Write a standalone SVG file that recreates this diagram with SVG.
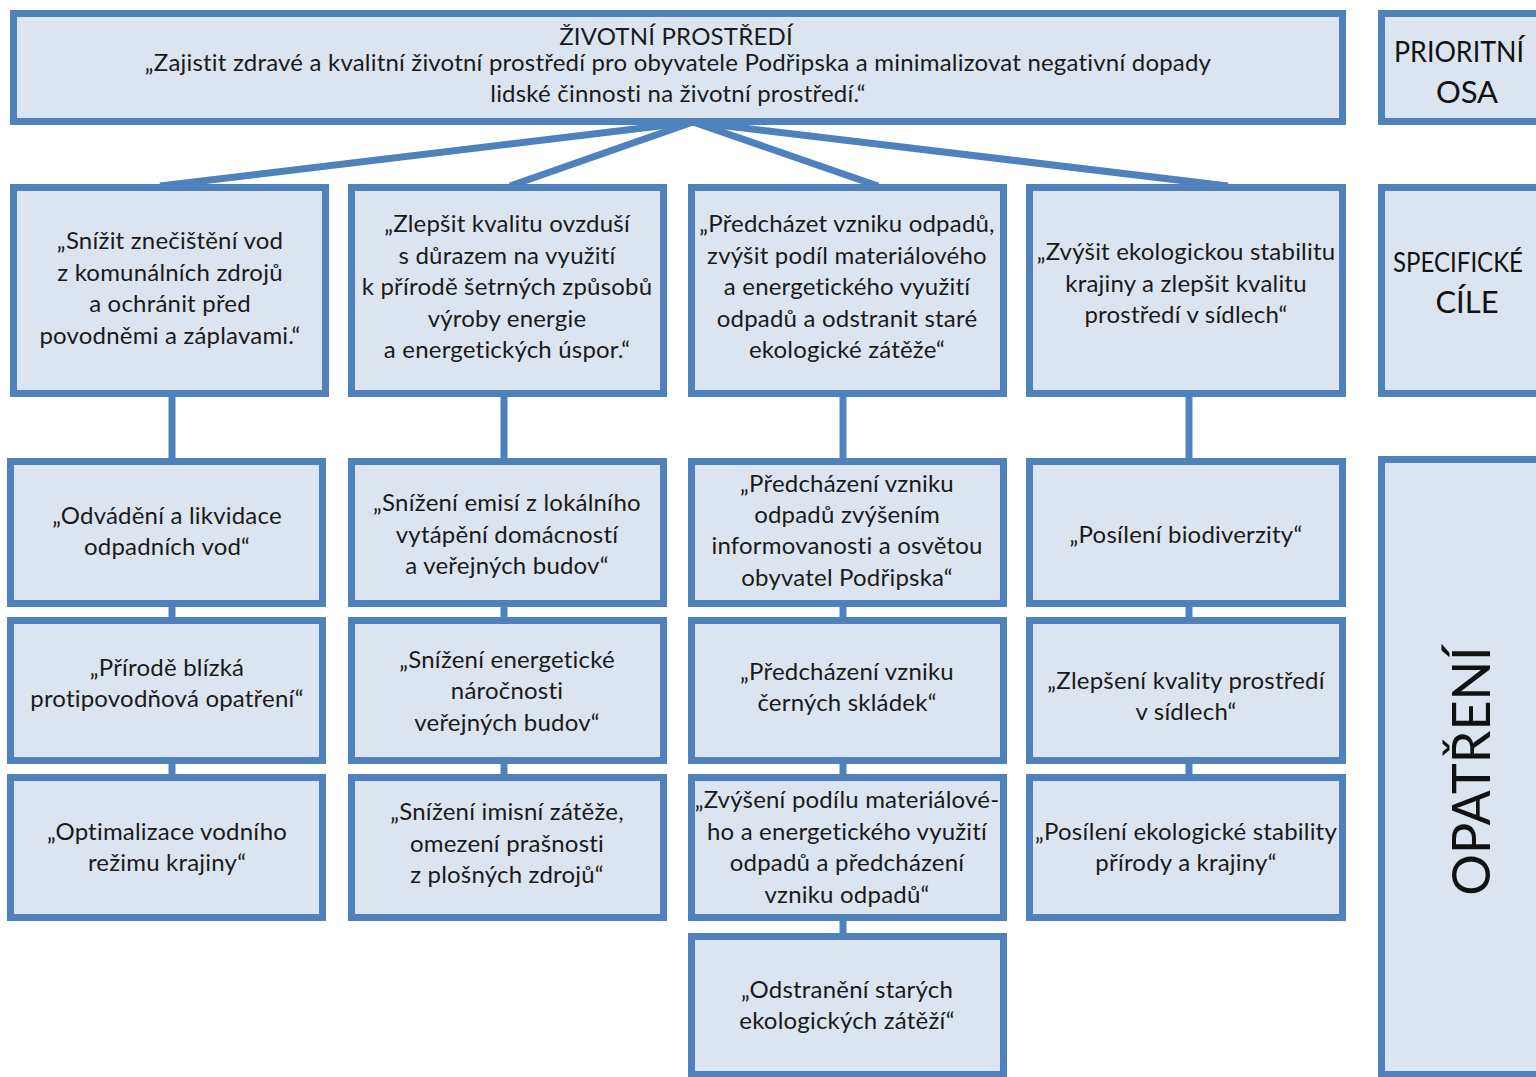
<svg xmlns="http://www.w3.org/2000/svg" width="1536" height="1077" viewBox="0 0 1536 1077">
<style>
.box{fill:#DCE4EF;stroke:#4F81BD;stroke-width:7}
.t{font-family:Lato,"Open Sans","DejaVu Sans",sans-serif;font-size:24px;letter-spacing:0.2px;fill:#1a1a1a;text-anchor:middle}
.big{font-family:Lato,"Open Sans","DejaVu Sans",sans-serif;font-size:31px;fill:#111;text-anchor:middle}
.big2{font-family:Lato,"Open Sans","DejaVu Sans",sans-serif;font-size:29px;fill:#111;text-anchor:start}
.huge{font-family:Lato,"Open Sans","DejaVu Sans",sans-serif;font-size:52px;fill:#111;text-anchor:middle}
.c{stroke:#4F81BD;stroke-width:7;fill:none}
</style>
<rect width="1536" height="1077" fill="#fff"/>
<g id="connectors">
<line class="c" x1="693" y1="122" x2="160" y2="186"/>
<line class="c" x1="693" y1="122" x2="510" y2="186"/>
<line class="c" x1="693" y1="122" x2="878" y2="186"/>
<line class="c" x1="693" y1="122" x2="1228" y2="186"/>
<line class="c" x1="172" y1="395" x2="172" y2="460"/>
<line class="c" x1="504" y1="395" x2="504" y2="460"/>
<line class="c" x1="843" y1="395" x2="843" y2="460"/>
<line class="c" x1="1189" y1="395" x2="1189" y2="460"/>
<line class="c" x1="172" y1="605" x2="172" y2="619"/>
<line class="c" x1="504" y1="605" x2="504" y2="619"/>
<line class="c" x1="843" y1="605" x2="843" y2="619"/>
<line class="c" x1="1189" y1="605" x2="1189" y2="619"/>
<line class="c" x1="172" y1="762" x2="172" y2="776"/>
<line class="c" x1="504" y1="762" x2="504" y2="776"/>
<line class="c" x1="843" y1="762" x2="843" y2="776"/>
<line class="c" x1="1189" y1="762" x2="1189" y2="776"/>
<line class="c" x1="843" y1="919" x2="843" y2="935"/>
</g>
<g id="top">
<rect class="box" x="13.5" y="13.5" width="1329" height="108"/>
<text class="t" x="676" y="45">ŽIVOTNÍ PROSTŘEDÍ</text>
<text class="t" x="678" y="71">„Zajistit zdravé a kvalitní životní prostředí pro obyvatele Podřipska a minimalizovat negativní dopady</text>
<text class="t" x="678" y="102">lidské činnosti na životní prostředí.“</text>
</g>
<g id="label-osa">
<rect class="box" x="1381.5" y="13.5" width="170" height="108"/>
<text class="big2" x="1394" y="62" textLength="130" lengthAdjust="spacingAndGlyphs">PRIORITNÍ</text>
<text class="big" x="1467" y="103">OSA</text>
</g>
<g id="label-cile">
<rect class="box" x="1381.5" y="187.5" width="170" height="206"/>
<text class="big2" x="1393" y="272" style="font-size:27px" textLength="130" lengthAdjust="spacingAndGlyphs">SPECIFICKÉ</text>
<text class="big" x="1467" y="313">CÍLE</text>
</g>
<g id="label-opatreni">
<rect class="box" x="1381.5" y="459.5" width="170" height="615"/>
<text class="huge" transform="translate(1490,771) rotate(-90)" x="0" y="0">OPATŘENÍ</text>
</g>
<g id="goal1">
<rect class="box" x="13.5" y="187.5" width="312" height="206"/>
<text class="t" x="170" y="249">„Snížit znečištění vod</text>
<text class="t" x="170" y="281">z komunálních zdrojů</text>
<text class="t" x="170" y="312">a ochránit před</text>
<text class="t" x="170" y="344">povodněmi a záplavami.“</text>
</g>
<g id="goal2">
<rect class="box" x="351.5" y="187.5" width="312" height="206"/>
<text class="t" x="507" y="232">„Zlepšit kvalitu ovzduší</text>
<text class="t" x="507" y="264">s důrazem na využití</text>
<text class="t" x="507" y="295">k přírodě šetrných způsobů</text>
<text class="t" x="507" y="327">výroby energie</text>
<text class="t" x="507" y="358">a energetických úspor.“</text>
</g>
<g id="goal3">
<rect class="box" x="691.5" y="187.5" width="312" height="206"/>
<text class="t" x="847" y="232">„Předcházet vzniku odpadů,</text>
<text class="t" x="847" y="264">zvýšit podíl materiálového</text>
<text class="t" x="847" y="295">a energetického využití</text>
<text class="t" x="847" y="327">odpadů a odstranit staré</text>
<text class="t" x="847" y="358">ekologické zátěže“</text>
</g>
<g id="goal4">
<rect class="box" x="1029.5" y="187.5" width="313" height="206"/>
<text class="t" x="1186" y="260">„Zvýšit ekologickou stabilitu</text>
<text class="t" x="1186" y="292">krajiny a zlepšit kvalitu</text>
<text class="t" x="1186" y="323">prostředí v sídlech“</text>
</g>
<g id="m11">
<rect class="box" x="10.5" y="461.5" width="312" height="142"/>
<text class="t" x="167" y="524">„Odvádění a likvidace</text>
<text class="t" x="167" y="555">odpadních vod“</text>
</g>
<g id="m12">
<rect class="box" x="10.5" y="620.5" width="312" height="140"/>
<text class="t" x="167" y="676">„Přírodě blízká</text>
<text class="t" x="167" y="707">protipovodňová opatření“</text>
</g>
<g id="m13">
<rect class="box" x="10.5" y="777.5" width="312" height="140"/>
<text class="t" x="167" y="840">„Optimalizace vodního</text>
<text class="t" x="167" y="871">režimu krajiny“</text>
</g>
<g id="m21">
<rect class="box" x="351.5" y="461.5" width="312" height="142"/>
<text class="t" x="507" y="511">„Snížení emisí z lokálního</text>
<text class="t" x="507" y="543">vytápění domácností</text>
<text class="t" x="507" y="574">a veřejných budov“</text>
</g>
<g id="m22">
<rect class="box" x="351.5" y="620.5" width="312" height="140"/>
<text class="t" x="507" y="668">„Snížení energetické</text>
<text class="t" x="507" y="699">náročnosti</text>
<text class="t" x="507" y="731">veřejných budov“</text>
</g>
<g id="m23">
<rect class="box" x="351.5" y="777.5" width="312" height="140"/>
<text class="t" x="507" y="820">„Snížení imisní zátěže,</text>
<text class="t" x="507" y="852">omezení prašnosti</text>
<text class="t" x="507" y="883">z plošných zdrojů“</text>
</g>
<g id="m31">
<rect class="box" x="691.5" y="461.5" width="312" height="142"/>
<text class="t" x="847" y="492">„Předcházení vzniku</text>
<text class="t" x="847" y="523">odpadů zvýšením</text>
<text class="t" x="847" y="554">informovanosti a osvětou</text>
<text class="t" x="847" y="586">obyvatel Podřipska“</text>
</g>
<g id="m32">
<rect class="box" x="691.5" y="620.5" width="312" height="140"/>
<text class="t" x="847" y="680">„Předcházení vzniku</text>
<text class="t" x="847" y="711">černých skládek“</text>
</g>
<g id="m33">
<rect class="box" x="691.5" y="777.5" width="312" height="140"/>
<text class="t" x="847" y="808">„Zvýšení podílu materiálové-</text>
<text class="t" x="847" y="840">ho a energetického využití</text>
<text class="t" x="847" y="871">odpadů a předcházení</text>
<text class="t" x="847" y="903">vzniku odpadů“</text>
</g>
<g id="m34">
<rect class="box" x="691.5" y="936.5" width="312" height="138"/>
<text class="t" x="847" y="998">„Odstranění starých</text>
<text class="t" x="847" y="1029">ekologických zátěží“</text>
</g>
<g id="m41">
<rect class="box" x="1029.5" y="461.5" width="313" height="142"/>
<text class="t" x="1186" y="543">„Posílení biodiverzity“</text>
</g>
<g id="m42">
<rect class="box" x="1029.5" y="620.5" width="313" height="140"/>
<text class="t" x="1186" y="689">„Zlepšení kvality prostředí</text>
<text class="t" x="1186" y="720">v sídlech“</text>
</g>
<g id="m43">
<rect class="box" x="1029.5" y="777.5" width="313" height="140"/>
<text class="t" x="1186" y="840">„Posílení ekologické stability</text>
<text class="t" x="1186" y="871">přírody a krajiny“</text>
</g>
</svg>
